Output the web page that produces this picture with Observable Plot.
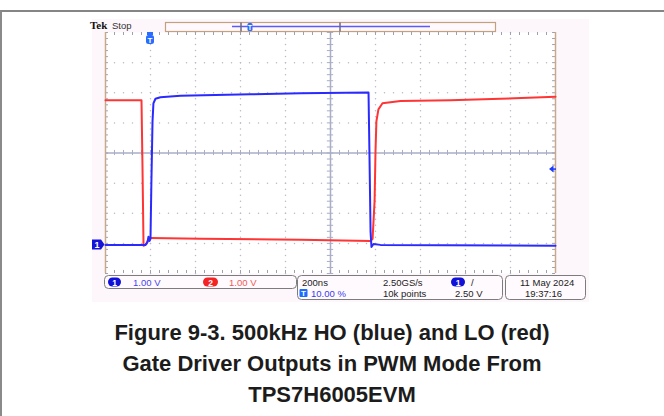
<!DOCTYPE html>
<html><head><meta charset="utf-8">
<script src="https://cdn.jsdelivr.net/npm/d3@7"></script>
<script src="https://cdn.jsdelivr.net/npm/@observablehq/plot@0.6"></script>
<style>
html,body{margin:0;padding:0;background:#fff;}
#wrap{position:relative;width:664px;height:416px;overflow:hidden;}
#border{position:absolute;left:0px;top:10px;width:680px;height:420px;border-top:2px solid #858585;border-left:2px solid #8a8a8a;}
#chart{position:absolute;left:0;top:0;}
#caption{position:absolute;left:0;top:317px;width:664px;text-align:center;font:bold 22px "Liberation Sans",Arial,sans-serif;line-height:31px;color:#1c1c1c;}
</style></head><body>
<div id="wrap"><div id="border"></div><div id="chart"></div>
<div id="caption">Figure 9-3. 500kHz HO (blue) and LO (red)<br>Gate Driver Outputs in PWM Mode From<br>TPS7H6005EVM</div></div>
<script>
// ---- data read from the scope capture ----
// time in ns (200 ns/div, trigger at 10 %), volts at 1.00 V/div
const hoTime  = [-200, -22, -13, -9, -4, 0, 4, 9, 13, 22, 44, 133, 444, 667, 969, 973, 978, 982, 991, 1022, 1800];
const hoVolts = [0, 0, 0.1, 0.27, 0.13, 0.2, 2.1, 4.1, 4.7, 4.85, 4.9, 4.95, 5.0, 5.03, 5.06, 3.1, 0.45, -0.07, 0.03, 0, -0.03];
const loTime  = [-200, -40, -36, -31, -18, -9, 0, 222, 667, 978, 987, 996, 1000, 1004, 1013, 1031, 1111, 1333, 1556, 1800];
const loVolts = [4.6, 4.6, 2.6, -0.23, -0.17, 0, 0.03, 0, -0.03, -0.07, 0, 1.26, 2.9, 3.9, 4.3, 4.5, 4.58, 4.6, 4.65, 4.72];
const ch1Offset = -3.05;   // divisions
const ch2Offset = -2.85;
const voltsPerDiv = 1.0;
const timeDomain = [-200, 1800];
const divDomain = [-4, 4];
const triggerLevel = 2.5;

// readouts
const headerBrand = "Tek";
const headerState = "Stop";
const ch1Scale = "1.00 V";
const ch2Scale = "1.00 V";
const timebase = "200ns";
const sampleRate = "2.50GS/s";
const recordLen = "10k points";
const trigPos = "10.00 %";
const trigLevelLabel = "2.50 V";
const dateLabel = "11 May 2024";
const timeLabel = "19:37:16";

// ---- build ----
const ho = hoTime.map((t, i) => ({t, y: ch1Offset + hoVolts[i] / voltsPerDiv}));
const lo = loTime.map((t, i) => ({t, y: ch2Offset + loVolts[i] / voltsPerDiv}));

const xMajor = d3.range(-200, 1801, 200);
const yMajor = d3.range(-4, 4.001, 1);
const xMinor = d3.range(-200, 1801, 40);
const yMinor = d3.range(-4, 4.001, 0.2);
const gridDots = [];
for (const x of xMajor) if (x !== -200 && x !== 1800 && x !== 800) for (const y of yMinor) gridDots.push({x, y});
for (const y of yMajor) if (y !== -4 && y !== 4 && y !== 0) for (const x of xMinor) gridDots.push({x, y});

const dotColor = "#b9b9c8";
const axisColor = "#a9aec6";
const tickColor = "#9ea0b0";

const chart = Plot.plot({
  width: 664, height: 305,
  marginLeft: 105, marginRight: 109, marginTop: 32, marginBottom: 32,
  x: {domain: timeDomain, axis: null},
  y: {domain: divDomain, axis: null},
  style: {background: "transparent"},
  marks: [
    Plot.frame({fill: "white", stroke: null}),
    Plot.dot(gridDots, {x: "x", y: "y", r: 0.75, fill: dotColor, stroke: null}),
    Plot.ruleY([0], {stroke: axisColor, strokeWidth: 1.5}),
    Plot.ruleX([800], {stroke: axisColor, strokeWidth: 1.5}),
    Plot.ruleX(xMinor, {x: d => d, y1: -0.085, y2: 0.085, stroke: axisColor, strokeWidth: 1}),
    Plot.ruleY(yMinor, {y: d => d, x1: 786, x2: 814, stroke: axisColor, strokeWidth: 1}),
    Plot.ruleX(xMinor, {x: d => d, y1: 4, y2: 3.9, stroke: tickColor}),
    Plot.ruleX(xMinor, {x: d => d, y1: -4, y2: -3.9, stroke: tickColor}),
    Plot.ruleY(yMinor, {y: d => d, x1: -200, x2: -187, stroke: tickColor}),
    Plot.ruleY(yMinor, {y: d => d, x1: 1800, x2: 1787, stroke: tickColor}),
    Plot.ruleX(timeDomain, {stroke: "#caa88c", strokeWidth: 1.5}),
    Plot.line(lo, {x: "t", y: "y", stroke: "#ff3434", strokeWidth: 2}),
    Plot.line(ho, {x: "t", y: "y", stroke: "#2a2aff", strokeWidth: 2})
  ]
});
document.getElementById("chart").appendChild(chart);

// ---- scope chrome ----
const svg = d3.select(chart);
const xs = chart.scale("x"), ys = chart.scale("y");
const X = v => xs.apply(v), Y = v => ys.apply(v);
svg.insert("rect", ":first-child").attr("x", 92).attr("y", 19).attr("width", 497).attr("height", 283).attr("fill", "#fdf7fc");
const font = '"Liberation Sans Narrow","Liberation Sans",Arial,sans-serif';
const g = svg.append("g").attr("text-anchor", "start");

g.append("text").attr("x", 90).attr("y", 29).text(headerBrand)
  .attr("font-family", '"Liberation Serif",serif').attr("font-weight", "bold").attr("font-size", 11).attr("fill", "#111");
g.append("text").attr("x", 112).attr("y", 29).text(headerState)
  .attr("font-family", font).attr("font-size", 9.5).attr("fill", "#333");

// record bar
g.append("rect").attr("x", 165.5).attr("y", 22.5).attr("width", 330).attr("height", 9).attr("fill", "#fff9fd").attr("stroke", "#c4a07e").attr("stroke-width", 1.2);
g.append("line").attr("x1", 232).attr("x2", 430).attr("y1", 26.5).attr("y2", 26.5).attr("stroke", "#5a5aff").attr("stroke-width", 1.3);
g.append("line").attr("x1", 241).attr("x2", 241).attr("y1", 22.5).attr("y2", 31.5).attr("stroke", "#6a6a80").attr("stroke-width", 1.5);
g.append("line").attr("x1", 340).attr("x2", 340).attr("y1", 22.5).attr("y2", 31.5).attr("stroke", "#6a6a80").attr("stroke-width", 1.5);
g.append("rect").attr("x", 247.5).attr("y", 23).attr("width", 5).attr("height", 8).attr("rx", 1.5).attr("fill", "#2a6cff");
g.append("text").attr("x", 250).attr("y", 30).attr("text-anchor", "middle").text("T").attr("font-family", font).attr("font-size", 7).attr("font-weight", "bold").attr("fill", "#fff");

// trigger position marker
const tx = X(0);
g.append("rect").attr("x", tx - 3).attr("y", 32).attr("width", 6).attr("height", 3).attr("fill", "#2a6cff");
g.append("rect").attr("x", tx - 4).attr("y", 35).attr("width", 8).attr("height", 9).attr("rx", 2.5).attr("fill", "#2a6cff");
g.append("text").attr("x", tx).attr("y", 42.5).attr("text-anchor", "middle").text("T").attr("font-family", font).attr("font-size", 8).attr("font-weight", "bold").attr("fill", "#fff");

// ch1 ground marker
const gy = Y(ch1Offset);
g.append("path").attr("d", `M92,${gy - 5}H101L104.5,${gy}L101,${gy + 5}H92Z`).attr("fill", "#1414d8");
g.append("text").attr("x", 97).attr("y", gy + 3.5).attr("text-anchor", "middle").text("1").attr("font-family", font).attr("font-size", 9).attr("font-weight", "bold").attr("fill", "#fff");

// trigger level arrow
const ly = Y(ch1Offset + triggerLevel / voltsPerDiv);
g.append("path").attr("d", `M549,${ly}L553.5,${ly - 3.5}V${ly + 3.5}Z`).attr("fill", "#1a3cff");
g.append("line").attr("x1", 553).attr("x2", 556).attr("y1", ly).attr("y2", ly).attr("stroke", "#1a3cff").attr("stroke-width", 1.5);

// readout boxes
const box = (x, y, w, h) => g.append("rect").attr("x", x).attr("y", y).attr("width", w).attr("height", h).attr("rx", 4).attr("fill", "#fffafd").attr("stroke", "#7c7c7c").attr("stroke-width", 1);
box(104.5, 275.5, 192, 13);
box(297.5, 275.5, 205, 24);
box(505.5, 275.5, 80, 24);
const txt = (x, y, s, c) => g.append("text").attr("x", x).attr("y", y).attr("text-anchor", "start").text(s).attr("font-family", font).attr("font-size", 9.5).attr("fill", c);
const badge = (x, y, w, s, c) => {
  g.append("rect").attr("x", x).attr("y", y).attr("width", w).attr("height", 9).attr("rx", 4.5).attr("fill", c);
  g.append("text").attr("x", x + w / 2).attr("y", y + 8).attr("text-anchor", "middle").text(s).attr("font-family", font).attr("font-size", 8.5).attr("font-weight", "bold").attr("fill", "#fff");
};
badge(108, 277.5, 13, "1", "#1010d8");
txt(133, 286, ch1Scale, "#4646ee");
badge(203, 277.5, 15, "2", "#f42424");
txt(229, 286, ch2Scale, "#f05a5a");
txt(302, 286, timebase, "#222");
txt(383, 286, sampleRate, "#222");
badge(451, 277.5, 14, "1", "#1010d8");
txt(471, 286, "/", "#222");
g.append("rect").attr("x", 299.5).attr("y", 289).attr("width", 8).attr("height", 8).attr("rx", 1).attr("fill", "#1c6cff");
g.append("text").attr("x", 303.5).attr("y", 296).attr("text-anchor", "middle").text("T").attr("font-family", font).attr("font-size", 8).attr("font-weight", "bold").attr("fill", "#fff");
txt(311, 297, trigPos, "#3a3aee");
txt(383, 297, recordLen, "#222");
txt(455, 297, trigLevelLabel, "#222");
txt(520, 286, dateLabel, "#222");
txt(525, 297, timeLabel, "#222");
</script>
</body></html>
